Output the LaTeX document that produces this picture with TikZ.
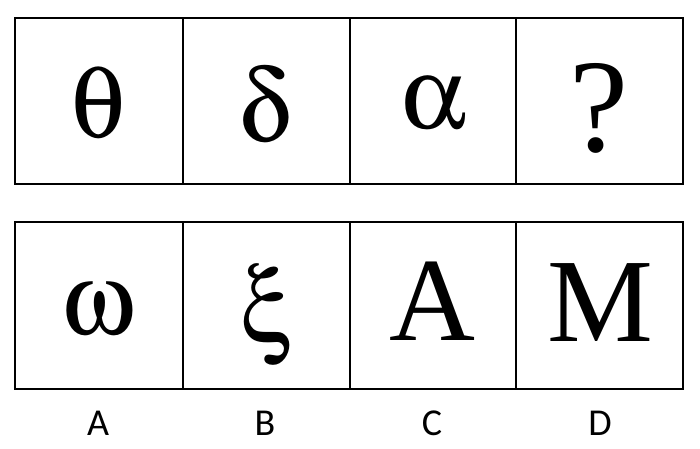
\documentclass[tikz,border=0pt]{standalone}
\usepackage[Symbol]{upgreek}
\usepackage{fontspec}
\setmainfont{Liberation Serif}
\newfontfamily\labelfont{Carlito}
\begin{document}
\begin{tikzpicture}[x=1pt,y=-1pt,
  frame/.style={line width=2.6pt,draw=black},
  divider/.style={line width=2pt,draw=black},
  glyph/.style={anchor=base,inner sep=0pt,font=\fontsize{119}{119}\selectfont},
  greek/.style={anchor=base,inner sep=0pt,font=\fontsize{103}{103}\selectfont},
  qmark/.style={anchor=base,inner sep=0pt,font=\fontsize{133}{133}\selectfont},
  optlabel/.style={anchor=base,inner sep=0pt,font=\labelfont\fontsize{38}{38}\selectfont}]
\useasboundingbox (0,0) rectangle (700,448);
% top row
\draw[frame] (15,18) rectangle (683,184);
\draw[divider] (183,18) -- (183,184);
\draw[divider] (350,18) -- (350,184);
\draw[divider] (516,18) -- (516,184);
% bottom row
\draw[frame] (15,222) rectangle (683,389);
\draw[divider] (183,222) -- (183,389);
\draw[divider] (350,222) -- (350,389);
\draw[divider] (516,222) -- (516,389);
% top glyphs
\node[greek] (t1) at (98,137) {$\uptheta$};
\node[greek] (t2) at (265,141) {$\updelta$};
\node[greek] (t3) at (434,128) {$\upalpha$};
\node[qmark] (t4) at (599,151) {?};
% bottom glyphs
\node[greek] (b1) at (98,334) {$\upomega$};
\node[greek] (b2) at (267,342) {$\upxi$};
\node[glyph] (b3) at (432,340) {A};
\node[glyph] (b4) at (600,341) {M};
% labels
\node[optlabel] (la) at (98,435) {A};
\node[optlabel] (lb) at (265,435) {B};
\node[optlabel] (lc) at (432,435) {C};
\node[optlabel] (ld) at (600,435) {D};
\end{tikzpicture}
\end{document}
